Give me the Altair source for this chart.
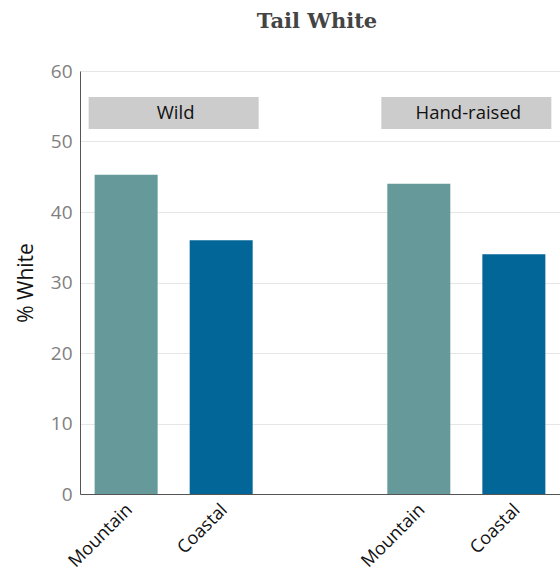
import altair as alt
import pandas as pd

groups = ["Wild", "Wild", "Hand-raised", "Hand-raised"]
types = ["Mountain", "Coastal", "Mountain", "Coastal"]
values = [45.3, 36.0, 44.0, 34.0]
group_names = ["Wild", "Hand-raised"]
type_names = ["Mountain", "Coastal"]
colors = ["#669999", "#036699"]

df = pd.DataFrame({"group": groups, "type": types, "value": values})
gdf = pd.DataFrame({"group": group_names})

x = alt.X("group:N", scale=alt.Scale(domain=group_names, paddingInner=0.46, paddingOuter=0.05),
          axis=alt.Axis(labels=False, ticks=False, title=None, domainColor="#555555", grid=False))
xo = alt.XOffset("type:N", scale=alt.Scale(domain=type_names, paddingInner=0.337, paddingOuter=0))

bars = alt.Chart(df).mark_bar().encode(
    x=x,
    xOffset=xo,
    y=alt.Y("value:Q", scale=alt.Scale(domain=[0, 60]),
            axis=alt.Axis(values=[0, 10, 20, 30, 40, 50, 60], title="% White", ticks=False,
                          gridColor="#e6e6e6", domainColor="#555555",
                          labelColor="#808080", labelFontSize=19, labelFont="Open Sans",
                          labelPadding=8, titleFontSize=21, titleFont="Open Sans",
                          titleFontWeight="normal", titleColor="#111111", titlePadding=14)),
    color=alt.Color("type:N", scale=alt.Scale(domain=type_names, range=colors), legend=None),
)

boxes = alt.Chart(gdf).mark_bar(size=170, color="#cccccc").encode(
    x=x, y=alt.value(26), y2=alt.value(58)
)

box_text = alt.Chart(gdf).mark_text(fontSize=18.5, font="Open Sans", color="#111111", baseline="middle",
                                    dx=2).encode(
    x=x, y=alt.value(42), text="group:N"
)

xlabels = alt.Chart(df).mark_text(fontSize=18, font="Open Sans", color="#111111", angle=315,
                                  align="right", baseline="middle", dx=5).encode(
    x=x, xOffset=xo, y=alt.value(440), text="type:N"
)

chart = alt.layer(bars, boxes, box_text, xlabels).properties(
    width=480, height=423,
    title=alt.TitleParams("Tail White", font="DejaVu Serif", fontSize=21, fontWeight="bold",
                          color="#444444", offset=30, anchor="middle", dx=-3),
    autosize=alt.AutoSizeParams(type="none"),
    padding={"left": 80, "top": 71, "right": 0, "bottom": 77},
).configure_view(stroke=None)

chart.save("out.html", embed_options={"renderer": "svg", "actions": False})
